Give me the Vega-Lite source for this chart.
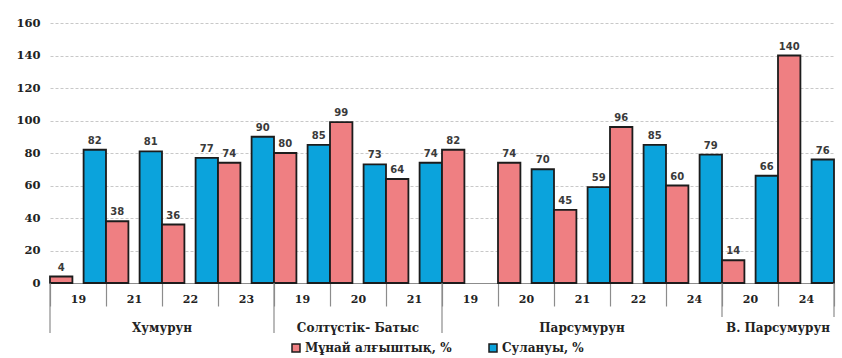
{
  "$schema": "https://vega.github.io/schema/vega-lite/v6.json",
  "autosize": "none",
  "padding": {"left": 50, "top": 23, "right": 8, "bottom": 75},
  "width": 784,
  "height": 260,
  "layer": [
    {
      "data": {
        "values": [
          {"key": "19", "series": "Мұнай алғыштық, %", "value": 4},
          {"key": "19", "series": "Сулануы, %", "value": 82},
          {"key": "21", "series": "Мұнай алғыштық, %", "value": 38},
          {"key": "21", "series": "Сулануы, %", "value": 81},
          {"key": "22", "series": "Мұнай алғыштық, %", "value": 36},
          {"key": "22", "series": "Сулануы, %", "value": 77},
          {"key": "23", "series": "Мұнай алғыштық, %", "value": 74},
          {"key": "23", "series": "Сулануы, %", "value": 90},
          {"key": "19\u200b", "series": "Мұнай алғыштық, %", "value": 80},
          {"key": "19\u200b", "series": "Сулануы, %", "value": 85},
          {"key": "20", "series": "Мұнай алғыштық, %", "value": 99},
          {"key": "20", "series": "Сулануы, %", "value": 73},
          {"key": "21\u200b", "series": "Мұнай алғыштық, %", "value": 64},
          {"key": "21\u200b", "series": "Сулануы, %", "value": 74},
          {"key": "19\u200b\u200b", "series": "Мұнай алғыштық, %", "value": 82},
          {"key": "20\u200b", "series": "Мұнай алғыштық, %", "value": 74},
          {"key": "20\u200b", "series": "Сулануы, %", "value": 70},
          {"key": "21\u200b\u200b", "series": "Мұнай алғыштық, %", "value": 45},
          {"key": "21\u200b\u200b", "series": "Сулануы, %", "value": 59},
          {"key": "22\u200b", "series": "Мұнай алғыштық, %", "value": 96},
          {"key": "22\u200b", "series": "Сулануы, %", "value": 85},
          {"key": "24", "series": "Мұнай алғыштық, %", "value": 60},
          {"key": "24", "series": "Сулануы, %", "value": 79},
          {"key": "20\u200b\u200b", "series": "Мұнай алғыштық, %", "value": 14},
          {"key": "20\u200b\u200b", "series": "Сулануы, %", "value": 66},
          {"key": "24\u200b", "series": "Мұнай алғыштық, %", "value": 140},
          {"key": "24\u200b", "series": "Сулануы, %", "value": 76}
        ]
      },
      "encoding": {
        "x": {
          "field": "key",
          "type": "nominal",
          "title": null,
          "scale": {
            "domain": ["19", "21", "22", "23", "19\u200b", "20", "21\u200b", "19\u200b\u200b", "20\u200b", "21\u200b\u200b", "22\u200b", "24", "20\u200b\u200b", "24\u200b"],
            "paddingInner": 0,
            "paddingOuter": 0
          },
          "axis": {
            "labelAngle": 0,
            "labelFont": "DejaVu Serif",
            "labelFontWeight": "bold",
            "labelFontSize": 11,
            "labelColor": "#222222",
            "tickBand": "extent",
            "tickSize": 23,
            "tickColor": "#8c8c8c",
            "tickWidth": 1.2,
            "domainColor": "#8c8c8c",
            "domainWidth": 1.2,
            "labelPadding": -13
          }
        },
        "xOffset": {
          "field": "series",
          "type": "nominal",
          "scale": {"domain": ["Мұнай алғыштық, %", "Сулануы, %"], "paddingInner": 0.333, "paddingOuter": 0}
        },
        "y": {
          "field": "value",
          "type": "quantitative",
          "title": null,
          "scale": {"domain": [0, 160]},
          "axis": {
            "values": [0, 20, 40, 60, 80, 100, 120, 140, 160],
            "tickCount": 10
          }
        }
      },
      "layer": [
        {
          "mark": {"type": "bar", "stroke": "#1c1c1c", "strokeWidth": 1.8},
          "encoding": {
            "color": {
              "field": "series",
              "type": "nominal",
              "scale": {"domain": ["Мұнай алғыштық, %", "Сулануы, %"], "range": ["#EF7F82", "#0BA3DC"]},
              "legend": {
                "title": null,
                "orient": "none",
                "direction": "horizontal",
                "legendX": 240,
                "legendY": 319,
                "symbolType": "square",
                "symbolSize": 64,
                "symbolStrokeColor": "#1c1c1c",
                "symbolStrokeWidth": 1.5,
                "labelFont": "DejaVu Serif",
                "labelFontWeight": "bold",
                "labelFontSize": 12,
                "labelColor": "#222222",
                "labelOffset": 3,
                "columnPadding": 34
              }
            }
          }
        },
        {
          "mark": {"type": "text", "baseline": "bottom", "dy": -4, "font": "DejaVu Sans", "fontWeight": "bold", "fontSize": 10, "fill": "#3a3a3a"},
          "encoding": {"text": {"field": "value", "type": "quantitative"}}
        }
      ]
    },
    {
      "data": {"values": [{"key": "19"}, {"key": "19\u200b"}, {"key": "19\u200b\u200b"}]},
      "mark": {"type": "rule", "color": "#8c8c8c", "strokeWidth": 1.2},
      "encoding": {
        "x": {"field": "key", "type": "nominal", "bandPosition": 0},
        "y": {"datum": 0, "type": "quantitative", "scale": {"domain": [0, 160]}},
        "y2": {"datum": -30.8}
      }
    },
    {
      "data": {"values": [{"key": "20\u200b\u200b"}]},
      "mark": {"type": "rule", "color": "#8c8c8c", "strokeWidth": 1.2},
      "encoding": {
        "x": {"field": "key", "type": "nominal", "bandPosition": 0},
        "y": {"datum": 0, "type": "quantitative", "scale": {"domain": [0, 160]}},
        "y2": {"datum": -20.9}
      }
    },
    {
      "data": {"values": [{"key": "24\u200b"}]},
      "mark": {"type": "rule", "color": "#8c8c8c", "strokeWidth": 1.2},
      "encoding": {
        "x": {"field": "key", "type": "nominal", "bandPosition": 1},
        "y": {"datum": 0, "type": "quantitative", "scale": {"domain": [0, 160]}},
        "y2": {"datum": -20.9}
      }
    },
    {
      "data": {"values": [{"key": "22", "label": "Хумурун"}, {"key": "24\u200b", "label": "В. Парсумурун"}]},
      "mark": {"type": "text", "font": "DejaVu Serif", "fontWeight": "bold", "fontSize": 12, "fill": "#222222", "baseline": "middle"},
      "encoding": {
        "x": {"field": "key", "type": "nominal", "bandPosition": 0},
        "y": {"datum": -27.7, "type": "quantitative", "scale": {"domain": [0, 160]}},
        "text": {"field": "label"}
      }
    },
    {
      "data": {"values": [{"key": "20", "label": "Солтүстік- Батыс"}, {"key": "21\u200b\u200b", "label": "Парсумурун"}]},
      "mark": {"type": "text", "font": "DejaVu Serif", "fontWeight": "bold", "fontSize": 12, "fill": "#222222", "baseline": "middle"},
      "encoding": {
        "x": {"field": "key", "type": "nominal", "bandPosition": 0.5},
        "y": {"datum": -27.7, "type": "quantitative", "scale": {"domain": [0, 160]}},
        "text": {"field": "label"}
      }
    }
  ],
  "config": {
    "view": {"stroke": null},
    "axisY": {
      "tickCount": 10,
      "labelOverlap": false,
      "domain": false,
      "ticks": false,
      "labelPadding": 10,
      "labelFont": "DejaVu Serif",
      "labelFontWeight": "bold",
      "labelFontSize": 11.5,
      "labelColor": "#222222",
      "gridColor": "#c8c8c8",
      "gridDash": [3, 2]
    }
  }
}
